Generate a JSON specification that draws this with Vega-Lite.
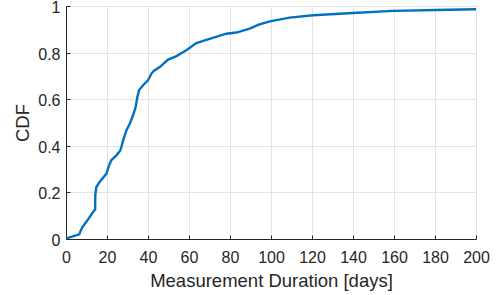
{
  "$schema": "https://vega.github.io/schema/vega-lite/v6.json",
  "autosize": {"type": "none"},
  "padding": {"left": 66, "top": 6, "right": 21, "bottom": 56},
  "width": 410,
  "height": 233,
  "background": "white",
  "config": {
    "view": {"stroke": null},
    "font": "Liberation Sans",
    "axis": {
      "domainColor": "#262626",
      "domainWidth": 1,
      "tickColor": "#262626",
      "tickSize": -4,
      "tickWidth": 1,
      "gridColor": "#E3E3E3",
      "gridWidth": 1,
      "labelFont": "Liberation Sans",
      "labelFontSize": 16,
      "labelColor": "#262626",
      "titleFont": "Liberation Sans",
      "titleFontSize": 18.5,
      "titleFontWeight": "normal",
      "titleColor": "#262626"
    }
  },
  "data": {
    "values": [
      {"x": 0, "y": 0}, {"x": 1, "y": 0.005}, {"x": 6.5, "y": 0.02}, {"x": 7.2, "y": 0.037},
      {"x": 8.3, "y": 0.055}, {"x": 10.7, "y": 0.083}, {"x": 13.2, "y": 0.116}, {"x": 14.2, "y": 0.125},
      {"x": 14.3, "y": 0.19}, {"x": 14.8, "y": 0.223}, {"x": 16.4, "y": 0.245}, {"x": 19.7, "y": 0.28},
      {"x": 21, "y": 0.316}, {"x": 22.1, "y": 0.338}, {"x": 24.6, "y": 0.359}, {"x": 26.5, "y": 0.38},
      {"x": 27, "y": 0.395}, {"x": 28.1, "y": 0.43}, {"x": 29.5, "y": 0.467}, {"x": 31.1, "y": 0.495},
      {"x": 32.7, "y": 0.531}, {"x": 34, "y": 0.567}, {"x": 34.8, "y": 0.609}, {"x": 35.6, "y": 0.638},
      {"x": 37.6, "y": 0.66}, {"x": 40, "y": 0.681}, {"x": 41.7, "y": 0.71}, {"x": 42.8, "y": 0.721},
      {"x": 45.7, "y": 0.738}, {"x": 49.8, "y": 0.77}, {"x": 53.9, "y": 0.785}, {"x": 58.7, "y": 0.81},
      {"x": 63.6, "y": 0.841}, {"x": 68.5, "y": 0.855}, {"x": 78.2, "y": 0.881}, {"x": 83.1, "y": 0.886},
      {"x": 89.6, "y": 0.903}, {"x": 94, "y": 0.92}, {"x": 99.4, "y": 0.934}, {"x": 109.1, "y": 0.95},
      {"x": 120.5, "y": 0.96}, {"x": 140, "y": 0.97}, {"x": 159.5, "y": 0.979}, {"x": 180.7, "y": 0.983},
      {"x": 200, "y": 0.986}
    ]
  },
  "mark": {"type": "line", "color": "#0072BD", "strokeWidth": 2.4, "clip": true},
  "encoding": {
    "x": {
      "field": "x", "type": "quantitative",
      "scale": {"domain": [0, 200], "nice": false, "zero": false},
      "axis": {"title": "Measurement Duration [days]", "values": [0, 20, 40, 60, 80, 100, 120, 140, 160, 180, 200], "labelPadding": 14, "titlePadding": 6, "labelFlush": false, "labelOverlap": false}
    },
    "y": {
      "field": "y", "type": "quantitative",
      "scale": {"domain": [0, 1], "nice": false},
      "axis": {"title": "CDF", "format": "~g", "values": [0, 0.2, 0.4, 0.6, 0.8, 1], "labelPadding": 10, "labelOffset": 1.5, "titlePadding": 5, "labelFlush": false, "labelOverlap": false}
    }
  }
}
